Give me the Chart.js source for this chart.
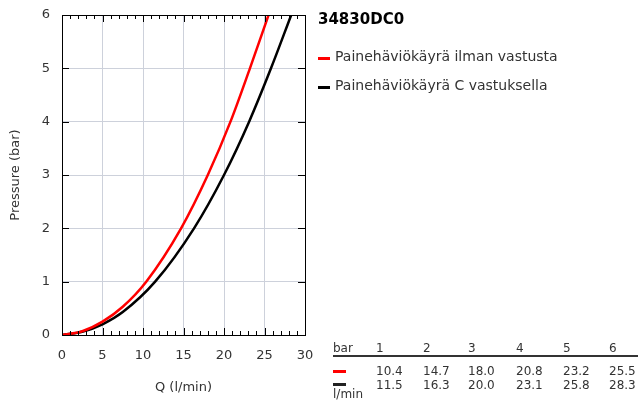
<!DOCTYPE html>
<html>
<head>
<meta charset="utf-8">
<script src="https://cdn.jsdelivr.net/npm/chart.js@4"></script>
<style>
  body { margin: 0; background: #fff; font-family: "DejaVu Sans", sans-serif; }
  #wrap { position: relative; width: 638px; height: 401px; }
  .txt { position: absolute; color: #333; white-space: nowrap; }
  #title { left: 318px; top: 10px; font-size: 15px; font-weight: bold; color: #000; }
  .leg { font-size: 14px; }
  .dash { position: absolute; width: 12px; height: 3px; }
</style>
</head>
<body>
<div id="wrap">
  <canvas id="chart" width="638" height="401"></canvas>
  <div class="txt" id="title">34830DC0</div>
  <div class="dash" style="left:318px;top:57px;background:#f00"></div>
  <div class="txt leg" style="left:335px;top:48px">Painehäviökäyrä ilman vastusta</div>
  <div class="dash" style="left:318px;top:86px;background:#000"></div>
  <div class="txt leg" style="left:335px;top:77px">Painehäviökäyrä C vastuksella</div>
  <div id="tableBox"></div>
</div>
<script>
// Curve points (Q in l/min, pressure in bar)
const flowRed = [0, 2.5, 5, 7.5, 10.4, 14.7, 18.0, 20.8, 23.2, 25.5];
const pressRed = [0, 0.07, 0.25, 0.53, 1, 2, 3, 4, 5, 6];
const flowBlack = [0, 2.5, 5, 7.5, 11.5, 16.3, 20.0, 23.1, 25.8, 28.3];
const pressBlack = [0, 0.06, 0.2, 0.43, 1, 2, 3, 4, 5, 6];

// Table values
const tableBar = [1, 2, 3, 4, 5, 6];
const tableRed = ['10.4', '14.7', '18.0', '20.8', '23.2', '25.5'];
const tableBlack = ['11.5', '16.3', '20.0', '23.1', '25.8', '28.3'];

function toPoints(xs, ys) {
  return xs.map((x, i) => ({ x: x, y: ys[i] }));
}

// Frame with inward ticks
const framePlugin = {
  id: 'frame',
  afterDraw(chart) {
    const ctx = chart.ctx;
    const a = chart.chartArea;
    const xs = chart.scales.x, ys = chart.scales.y;
    ctx.save();
    ctx.strokeStyle = '#000';
    ctx.lineWidth = 1;
    ctx.strokeRect(a.left + 0.5, a.top + 0.5, a.right - a.left, a.bottom - a.top);
    ctx.beginPath();
    for (let v = 0; v <= 30; v++) {
      const px = Math.round(xs.getPixelForValue(v)) + 0.5;
      const len = v % 5 === 0 ? 7 : 4;
      ctx.moveTo(px, a.bottom); ctx.lineTo(px, a.bottom - len);
      ctx.moveTo(px, a.top); ctx.lineTo(px, a.top + len);
    }
    for (let v = 0; v <= 6; v++) {
      const py = Math.round(ys.getPixelForValue(v)) + 0.5;
      ctx.moveTo(a.left, py); ctx.lineTo(a.left + 7, py);
      ctx.moveTo(a.right, py); ctx.lineTo(a.right - 7, py);
    }
    ctx.stroke();
    ctx.restore();
  }
};

new Chart(document.getElementById('chart'), {
  type: 'scatter',
  data: {
    datasets: [
      { data: toPoints(flowRed, pressRed), showLine: true, borderColor: '#ff0000', borderWidth: 2.5,
        pointRadius: 0, cubicInterpolationMode: 'monotone' },
      { data: toPoints(flowBlack, pressBlack), showLine: true, borderColor: '#000000', borderWidth: 2.5,
        pointRadius: 0, cubicInterpolationMode: 'monotone' }
    ]
  },
  options: {
    responsive: false,
    animation: false,
    layout: { padding: { top: 15, right: 333, left: 0, bottom: 0 } },
    plugins: { legend: { display: false }, tooltip: { enabled: false } },
    scales: {
      x: {
        type: 'linear', min: 0, max: 30,
        ticks: { stepSize: 5, color: '#333', padding: 13, font: { family: 'DejaVu Sans', size: 13 } },
        grid: { color: '#cdd1db', drawTicks: false },
        border: { display: false },
        title: { display: true, text: 'Q (l/min)', color: '#333', font: { family: 'DejaVu Sans', size: 13 },
          padding: { top: 10, bottom: 6 } },
        afterFit(scale) { scale.height = 66; scale.paddingLeft = 0; scale.paddingRight = 0; }
      },
      y: {
        type: 'linear', min: 0, max: 6,
        ticks: { stepSize: 1, color: '#333', padding: 12, font: { family: 'DejaVu Sans', size: 13 } },
        grid: { color: '#cdd1db', drawTicks: false },
        border: { display: false },
        title: { display: true, text: 'Pressure (bar)', color: '#333', font: { family: 'DejaVu Sans', size: 13 },
          padding: { top: 8, bottom: 0 } },
        afterFit(scale) { scale.width = 62; scale.paddingTop = 0; scale.paddingBottom = 0; }
      }
    }
  },
  plugins: [framePlugin]
});

// Table at bottom right
const cols = [0, 43, 90, 135, 183, 230, 276];
let html = '';
function row(top, first, vals) {
  html += first;
  vals.forEach((v, i) => {
    html += '<div class="txt" style="left:' + (333 + cols[i + 1]) + 'px;top:' + top + 'px;font-size:12px">' + v + '</div>';
  });
}
row(341, '<div class="txt" style="left:333px;top:341px;font-size:12px">bar</div>', tableBar);
html += '<div style="position:absolute;left:333px;top:355px;width:305px;height:2px;background:#333"></div>';
row(364, '<div class="dash" style="left:333px;top:370px;width:13px;background:#f00"></div>', tableRed);
row(378, '<div class="dash" style="left:333px;top:383px;width:13px;background:#222"></div>', tableBlack);
html += '<div class="txt" style="left:333px;top:387px;font-size:12px">l/min</div>';
document.getElementById('tableBox').innerHTML = html;
</script>
</body>
</html>
